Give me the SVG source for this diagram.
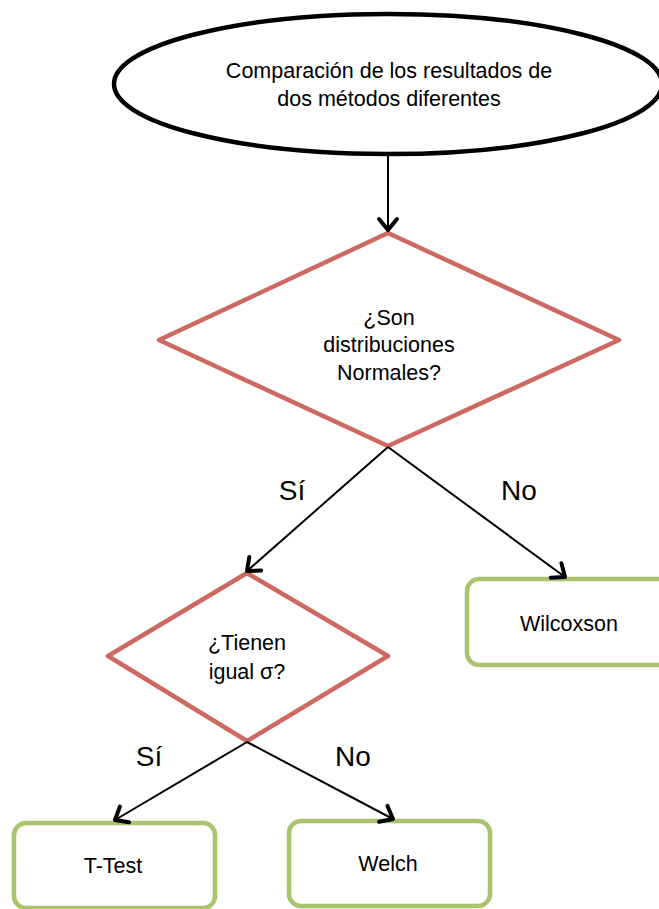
<svg xmlns="http://www.w3.org/2000/svg" width="659" height="909" viewBox="0 0 659 909">
<style>
.t{font-family:"Liberation Sans",Arial,sans-serif;font-size:21.5px;fill:#000;text-anchor:middle}
.l{font-family:"Liberation Sans",Arial,sans-serif;font-size:28px;fill:#000;text-anchor:middle}
.dec{fill:#fff;stroke:#CD6862;stroke-width:4.5;stroke-linejoin:round}
.box{fill:#fff;stroke:#A9C46D;stroke-width:4.5}
.c{fill:none;stroke:#000;stroke-width:2;marker-end:url(#arr)}
</style>
<defs>
<marker id="arr" markerUnits="userSpaceOnUse" markerWidth="30" markerHeight="30" viewBox="-15 -15 30 30" refX="0" refY="0" orient="auto">
<path d="M-11,-9 L0,0 L-11,9" fill="none" stroke="#000" stroke-width="4" stroke-linecap="round" stroke-linejoin="round"/>
</marker>
</defs>
<rect width="659" height="909" fill="#fff"/>
<g id="start">
<ellipse cx="388" cy="84" rx="274" ry="70" fill="#fff" stroke="#000" stroke-width="4.5"/>
<text class="t" x="389" y="78">Comparación de los resultados de</text>
<text class="t" x="389" y="106">dos métodos diferentes</text>
</g>
<g id="d1">
<polygon class="dec" points="388,233 619,340 388,446 159,340"/>
<text class="t" x="389" y="325">¿Son</text>
<text class="t" x="389" y="352">distribuciones</text>
<text class="t" x="389" y="380">Normales?</text>
</g>
<g id="d2">
<polygon class="dec" points="247,573 388,656 247,741 108,656"/>
<text class="t" x="247" y="650">¿Tienen</text>
<text class="t" x="247" y="679">igual σ?</text>
</g>
<g id="wilcoxson">
<rect class="box" x="467" y="579" width="210" height="86" rx="12"/>
<text class="t" x="569" y="631">Wilcoxson</text>
</g>
<g id="ttest">
<rect class="box" x="14" y="823" width="201" height="85" rx="12"/>
<text class="t" x="113" y="873">T-Test</text>
</g>
<g id="welch">
<rect class="box" x="289" y="821" width="201" height="85" rx="12"/>
<text class="t" x="388" y="871">Welch</text>
</g>
<g id="connectors">
<path class="c" d="M388,156 L388,230"/>
<path class="c" d="M388,447 L247,571"/>
<path class="c" d="M388,447 L565,577"/>
<path class="c" d="M247,742 L115,820"/>
<path class="c" d="M247,742 L393,819"/>
<text class="l" x="292" y="500">Sí</text>
<text class="l" x="519" y="500">No</text>
<text class="l" x="149" y="766">Sí</text>
<text class="l" x="353" y="766">No</text>
</g>
</svg>
